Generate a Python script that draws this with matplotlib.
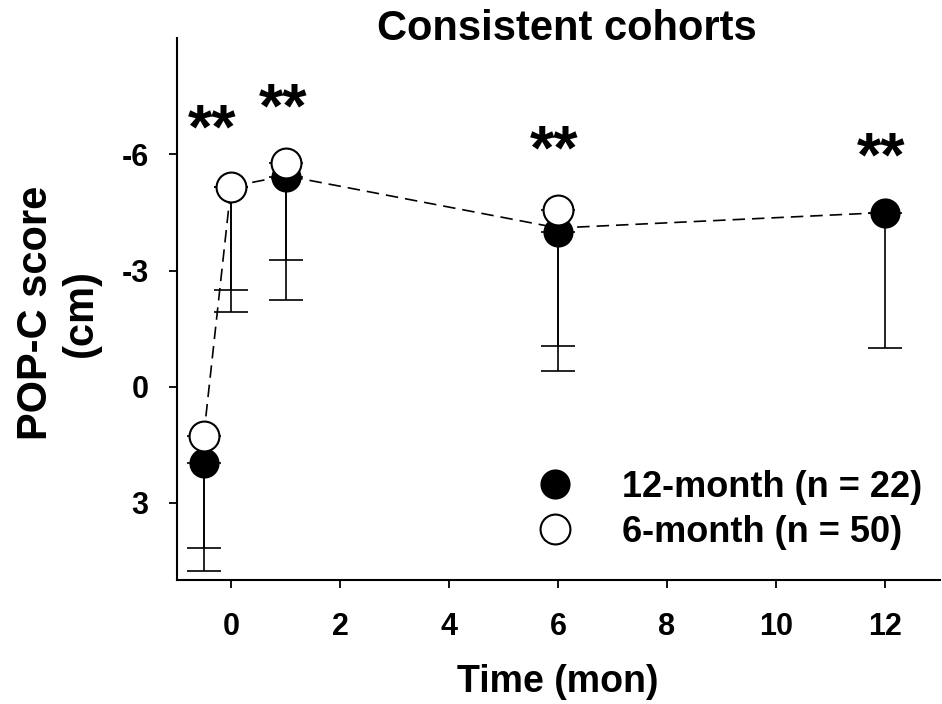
import matplotlib
matplotlib.use("Agg")
import matplotlib.pyplot as plt

plt.rcParams['font.family'] = ['Liberation Sans', 'DejaVu Sans']
plt.rcParams['font.weight'] = 'bold'
plt.rcParams['axes.unicode_minus'] = False
plt.rcParams['lines.scale_dashes'] = False

# 12-month cohort (filled)
x_12 = [-0.5, 0, 1, 6, 12]
y_12 = [1.98, -5.15, -5.43, -4.0, -4.5]
sd_12 = [2.78, 3.21, 3.19, 3.59, 3.51]

# 6-month cohort (open)
x_6 = [-0.5, 0, 1, 6]
y_6 = [1.27, -5.17, -5.79, -4.57]
sd_6 = [2.91, 2.67, 2.53, 3.51]

# dashed trend line
x_line = [-0.5, 0, 1, 6, 12]
y_line = [1.27, -5.17, -5.45, -4.1, -4.5]

# significance marks
star_x = [-0.35, 0.95, 5.93, 11.93]
star_y = [-6.61, -7.15, -6.06, -5.89]

fig = plt.figure(figsize=(9.42, 7.04), dpi=100)
ax = fig.add_axes([0.1874, 0.1761, 0.8100, 0.7693])

ax.plot(x_line, y_line, color='black', lw=1.2, dashes=(9, 5), zorder=1)

ax.errorbar(x_12, y_12, yerr=[[0] * len(sd_12), sd_12], fmt='none',
            ecolor='black', elinewidth=1.2, capsize=12, capthick=1.2, zorder=2)
ax.errorbar(x_6, y_6, yerr=[[0] * len(sd_6), sd_6], fmt='none',
            ecolor='black', elinewidth=1.2, capsize=12, capthick=1.2, zorder=2)

ax.plot(x_12, y_12, 'o', ms=20.5, mfc='black', mec='black', mew=1.2,
        ls='none', zorder=3, label='12-month (n = 22)')
ax.plot(x_6, y_6, 'o', ms=21.5, mfc='white', mec='black', mew=1.5,
        ls='none', zorder=4, label='6-month (n = 50)')

for sx, sy in zip(star_x, star_y):
    ax.text(sx, sy, '**', fontsize=45, fontweight='bold', ha='center',
            va='center', zorder=5)

ax.set_xlim(-1, 13)
ax.set_ylim(5, -9)
ax.set_xticks([0, 2, 4, 6, 8, 10, 12])
ax.set_yticks([-6, -3, 0, 3])

ax.spines['top'].set_visible(False)
ax.spines['right'].set_visible(False)
for s in ['left', 'bottom']:
    ax.spines[s].set_linewidth(1.5)
ax.tick_params(axis='both', direction='out', length=6, width=1.3)
ax.tick_params(axis='y', pad=14, labelsize=22)
ax.tick_params(axis='x', pad=17, labelsize=22)

ax.set_title('Consistent cohorts', fontsize=30, fontweight='bold',
             pad=0, x=0.512, y=0.998)
ax.set_xlabel('Time (mon)', fontsize=27, fontweight='bold')
ax.xaxis.set_label_coords(0.5, -0.155)
ax.set_ylabel('POP-C score\n(cm)', fontsize=30, fontweight='bold',
              multialignment='center', linespacing=1.15)
ax.yaxis.set_label_coords(-0.099, 0.493)

ax.legend(loc='center left', bbox_to_anchor=(537 / 942, 0.2756),
          bbox_transform=fig.transFigure, frameon=False,
          handlelength=1.0, handletextpad=1.35, labelspacing=0.27,
          borderpad=0, borderaxespad=0, numpoints=1,
          prop={'weight': 'bold', 'size': 26})

fig.savefig('out.png', dpi=100)
